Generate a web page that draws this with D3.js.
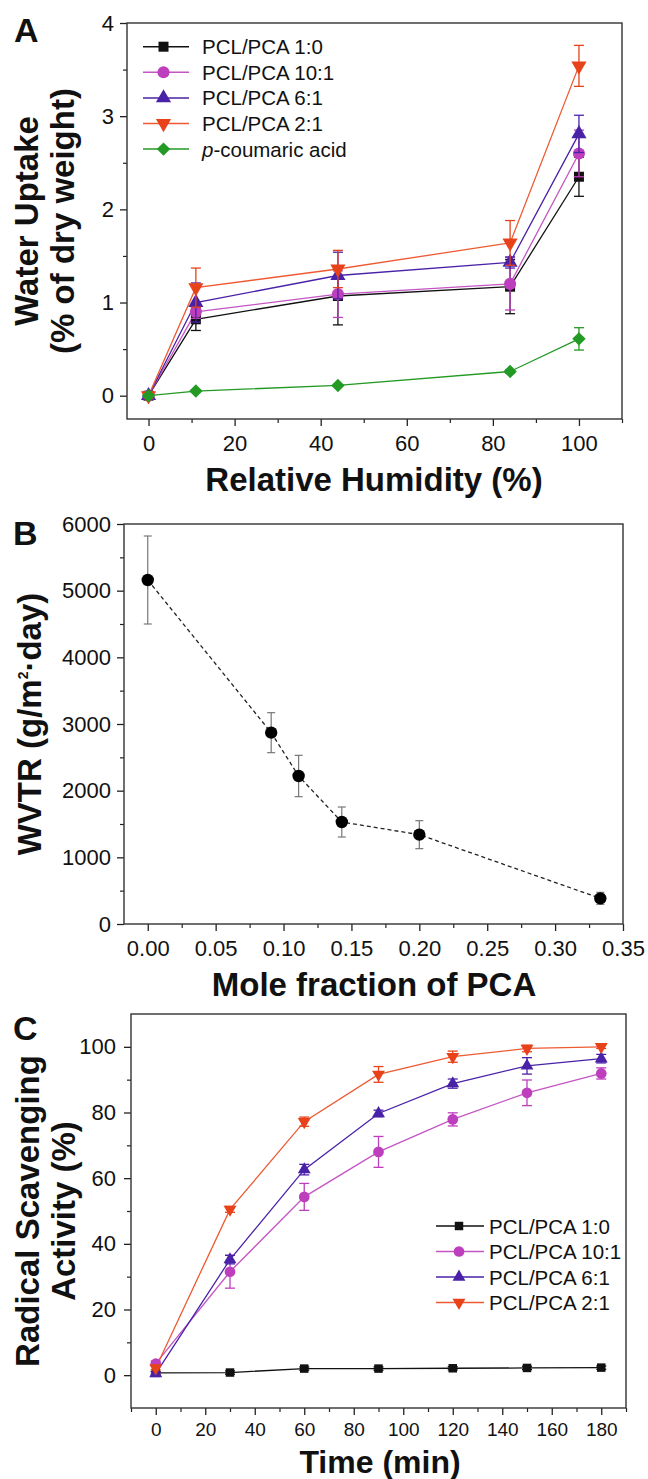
<!DOCTYPE html>
<html><head><meta charset="utf-8">
<script src="https://cdn.jsdelivr.net/npm/d3@7"></script>
<style>
body{margin:0;background:#fff}
text{font-family:"Liberation Sans",Arial,Helvetica,sans-serif;fill:#111}
</style>
</head><body>
<svg id="chart" width="648" height="1479" xmlns="http://www.w3.org/2000/svg"></svg>
<script>
// ---------------- DATA ----------------
// Panel A: water uptake vs relative humidity
const humidity = [0, 11, 44, 84, 100];
const namesA = ["PCL/PCA 1:0", "PCL/PCA 10:1", "PCL/PCA 6:1", "PCL/PCA 2:1", "p-coumaric acid"];
const uptake_1_0   = [0, 0.82, 1.07, 1.17, 2.35];
const uptake_10_1  = [0, 0.90, 1.09, 1.20, 2.60];
const uptake_6_1   = [0, 1.00, 1.29, 1.43, 2.81];
const uptake_2_1   = [0, 1.16, 1.36, 1.64, 3.54];
const uptake_pca   = [0, 0.05, 0.11, 0.26, 0.61];
const uptakeErr_1_0  = [0.03, 0.12, 0.31, 0.29, 0.21];
const uptakeErr_10_1 = [0.03, 0.07, 0.25, 0.28, 0.25];
const uptakeErr_6_1  = [0.03, 0.21, 0.25, 0.06, 0.20];
const uptakeErr_2_1  = [0.03, 0.21, 0.20, 0.24, 0.22];
const uptakeErr_pca  = [0.01, 0.01, 0.01, 0.02, 0.12];
const ticksA_x = [0, 20, 40, 60, 80, 100];
const ticksA_y = [0, 1, 2, 3, 4];

// Panel B: WVTR vs mole fraction of PCA
const moleFraction = [0, 0.0909, 0.1111, 0.1429, 0.2, 0.3333];
const wvtr    = [5160, 2870, 2220, 1530, 1340, 385];
const wvtrErr = [660, 300, 310, 225, 210, 90];
const ticksB_x = [0, 0.05, 0.10, 0.15, 0.20, 0.25, 0.30, 0.35];
const ticksB_y = [0, 1000, 2000, 3000, 4000, 5000, 6000];

// Panel C: radical scavenging activity vs time
const timeMin = [0, 30, 60, 90, 120, 150, 180];
const namesC = ["PCL/PCA 1:0", "PCL/PCA 10:1", "PCL/PCA 6:1", "PCL/PCA 2:1"];
const rsa_1_0  = [0.7, 0.8, 2.0, 2.0, 2.1, 2.2, 2.3];
const rsa_10_1 = [3.5, 31.5, 54.3, 68.0, 77.9, 86.0, 91.9];
const rsa_6_1  = [0.5, 35.2, 62.6, 79.7, 88.8, 94.2, 96.4];
const rsa_2_1  = [2.2, 50.5, 77.2, 91.6, 97.0, 99.5, 100.0];
const rsaErr_1_0  = [0.4, 0.5, 0.5, 0.5, 0.5, 0.5, 0.5];
const rsaErr_10_1 = [0.8, 5.0, 4.1, 4.7, 2.0, 3.9, 1.7];
const rsaErr_6_1  = [0.5, 1.3, 1.6, 1.0, 1.4, 2.5, 1.3];
const rsaErr_2_1  = [0.6, 0.9, 1.4, 2.4, 1.7, 1.0, 0.5];
const ticksC_x = [0, 20, 40, 60, 80, 100, 120, 140, 160, 180];
const ticksC_y = [0, 20, 40, 60, 80, 100];

// ---------------- STYLE ----------------
const colBlack = "#111111", colMag = "#bd3fbd", colBlue = "#4a22a8", colRed = "#e8421a", colGreen = "#239a23";
const lineMag = "#c455c4", lineRed = "#ee5a32";

const svg = d3.select("#chart");

function symbolPath(kind, size) {
  if (kind === "square" || kind === "diamond") return d3.symbol(d3.symbolSquare, size)();
  if (kind === "up" || kind === "down") return d3.symbol(d3.symbolTriangle, size)();
  return d3.symbol(d3.symbolCircle, size)();
}
function symbolRot(kind) { return kind === "down" ? 180 : (kind === "diamond" ? 45 : 0); }
function drawMarker(g, x, y, kind, size, color) {
  g.append("path").attr("d", symbolPath(kind, size))
    .attr("transform", `translate(${x},${y}) rotate(${symbolRot(kind)})`)
    .attr("fill", color).attr("stroke", "none");
}

function frameAndAxes(opt) {
  const g = svg.append("g");
  const x = d3.scaleLinear().domain(opt.xDomain).range([opt.left, opt.right]);
  const y = d3.scaleLinear().domain(opt.yDomain).range([opt.bottom, opt.top]);
  g.append("g").attr("transform", `translate(0,${opt.bottom})`)
    .call(d3.axisBottom(x).tickValues(opt.xMinor).tickSize(4).tickFormat(""))
    .call(s => s.select(".domain").remove())
    .call(s => s.selectAll("line").attr("stroke", "#222").attr("stroke-width", 1.2));
  g.append("g").attr("transform", `translate(${opt.left},0)`)
    .call(d3.axisLeft(y).tickValues(opt.yMinor).tickSize(4).tickFormat(""))
    .call(s => s.select(".domain").remove())
    .call(s => s.selectAll("line").attr("stroke", "#222").attr("stroke-width", 1.2));
  const ax = g.append("g").attr("transform", `translate(0,${opt.bottom})`)
    .call(d3.axisBottom(x).tickValues(opt.xTicks).tickSize(7).tickPadding(opt.xPad).tickFormat(opt.xFmt));
  ax.select(".domain").remove();
  ax.selectAll("line").attr("stroke", "#222").attr("stroke-width", 1.3);
  ax.selectAll("text").style("font-size", opt.xFont + "px").style("font-family", '"Liberation Sans",Arial,sans-serif').attr("fill", "#111");
  const ay = g.append("g").attr("transform", `translate(${opt.left},0)`)
    .call(d3.axisLeft(y).tickValues(opt.yTicks).tickSize(7).tickPadding(opt.yPad).tickFormat(opt.yFmt));
  ay.select(".domain").remove();
  ay.selectAll("line").attr("stroke", "#222").attr("stroke-width", 1.3);
  ay.selectAll("text").style("font-size", opt.yFont + "px").style("font-family", '"Liberation Sans",Arial,sans-serif').attr("fill", "#111");
  g.append("rect").attr("x", opt.left).attr("y", opt.top)
    .attr("width", opt.right - opt.left).attr("height", opt.bottom - opt.top)
    .attr("fill", "none").attr("stroke", "#333").attr("stroke-width", 1.4);
  return { x, y, g };
}

function errorBars(g, xs, ys, es, x, y, color, cap, width) {
  xs.forEach((xv, i) => {
    const px = x(xv), y1 = y(ys[i] - es[i]), y2 = y(ys[i] + es[i]);
    g.append("line").attr("x1", px).attr("x2", px).attr("y1", y1).attr("y2", y2)
      .attr("stroke", color).attr("stroke-width", width);
    [y1, y2].forEach(py => g.append("line").attr("x1", px - cap / 2).attr("x2", px + cap / 2)
      .attr("y1", py).attr("y2", py).attr("stroke", color).attr("stroke-width", width));
  });
}

function panelLetter(txt, x, y) {
  svg.append("text").attr("x", x).attr("y", y).text(txt)
    .style("font-weight", "bold").style("font-size", "34px");
}
function yTitle(lines, x0, dx, cy) {
  lines.forEach((t, i) => {
    svg.append("text").attr("transform", `translate(${x0 + i * dx},${cy}) rotate(-90)`)
      .attr("text-anchor", "middle").style("font-weight", "bold").style("font-size", "33px")
      .text(t);
  });
}
function xTitle(t, cx, y, fs) {
  svg.append("text").attr("x", cx).attr("y", y).attr("text-anchor", "middle")
    .style("font-weight", "bold").style("font-size", (fs || 33) + "px").text(t);
}

// ---------------- PANEL A ----------------
{
  const A = frameAndAxes({
    left: 127, right: 622, top: 23, bottom: 419,
    xDomain: [-5, 110], yDomain: [-0.25, 4],
    xTicks: ticksA_x, yTicks: ticksA_y,
    xMinor: [10, 30, 50, 70, 90, 110], yMinor: [0.5, 1.5, 2.5, 3.5],
    xFmt: d3.format("d"), yFmt: d3.format("d"),
    xFont: 22, yFont: 22, xPad: 9, yPad: 6
  });
  const seriesA = [
    { v: uptake_1_0, e: uptakeErr_1_0, c: colBlack, lc: colBlack, k: "square", s: 100 },
    { v: uptake_10_1, e: uptakeErr_10_1, c: colMag, lc: lineMag, k: "circle", s: 115 },
    { v: uptake_6_1, e: uptakeErr_6_1, c: colBlue, lc: colBlue, k: "up", s: 100 },
    { v: uptake_2_1, e: uptakeErr_2_1, c: colRed, lc: lineRed, k: "down", s: 100 },
    { v: uptake_pca, e: uptakeErr_pca, c: colGreen, lc: colGreen, k: "diamond", s: 90 }
  ];
  const line = d3.line().x((d, i) => A.x(humidity[i])).y(d => A.y(d));
  seriesA.forEach(s => {
    A.g.append("path").datum(s.v).attr("d", line).attr("fill", "none")
      .attr("stroke", s.lc).attr("stroke-width", 1.3);
  });
  seriesA.forEach(s => {
    errorBars(A.g, humidity, s.v, s.e, A.x, A.y, s.c, 10, 1.3);
    humidity.forEach((h, i) => drawMarker(A.g, A.x(h), A.y(s.v[i]), s.k, s.s, s.c));
  });
  const legY0 = 46.7, legDy = 25.6;
  seriesA.forEach((s, i) => {
    const yy = legY0 + i * legDy;
    A.g.append("line").attr("x1", 143).attr("x2", 189).attr("y1", yy).attr("y2", yy)
      .attr("stroke", s.lc).attr("stroke-width", 1.5);
    drawMarker(A.g, 163.5, yy, s.k, s.s, s.c);
    const t = A.g.append("text").attr("x", 202).attr("y", yy + 7.5).style("font-size", "20.5px");
    if (i === 4) {
      t.append("tspan").style("font-style", "italic").text("p");
      t.append("tspan").text("-coumaric acid");
    } else t.text(namesA[i]);
  });
  panelLetter("A", 14, 42);
  yTitle(["Water Uptake", "(% of dry weight)"], 38, 36, 221);
  xTitle("Relative Humidity (%)", 374, 491);
}

// ---------------- PANEL B ----------------
{
  const B = frameAndAxes({
    left: 124, right: 623, top: 524, bottom: 924,
    xDomain: [-0.0175, 0.35], yDomain: [0, 6000],
    xTicks: ticksB_x, yTicks: ticksB_y,
    xMinor: [0.025, 0.075, 0.125, 0.175, 0.225, 0.275, 0.325], yMinor: [500, 1500, 2500, 3500, 4500, 5500],
    xFmt: d3.format(".2f"), yFmt: d3.format("d"),
    xFont: 22, yFont: 22, xPad: 9, yPad: 6
  });
  const line = d3.line().x((d, i) => B.x(moleFraction[i])).y(d => B.y(d));
  B.g.append("path").datum(wvtr).attr("d", line).attr("fill", "none")
    .attr("stroke", "#222").attr("stroke-width", 1.3).attr("stroke-dasharray", "4,3");
  errorBars(B.g, moleFraction, wvtr, wvtrErr, B.x, B.y, "#777", 8, 1.2);
  moleFraction.forEach((m, i) => B.g.append("circle").attr("cx", B.x(m)).attr("cy", B.y(wvtr[i]))
    .attr("r", 6.2).attr("fill", "#000"));
  panelLetter("B", 13, 545);
  const t = svg.append("text").attr("transform", "translate(41,724) rotate(-90)")
    .attr("text-anchor", "middle").style("font-weight", "bold").style("font-size", "33px");
  t.append("tspan").text("WVTR (g/m");
  t.append("tspan").attr("dy", -13).style("font-size", "14px").text("2");
  t.append("tspan").attr("dy", 13).text("·day)");
  xTitle("Mole fraction of PCA", 374, 996);
}

// ---------------- PANEL C ----------------
{
  const C = frameAndAxes({
    left: 131, right: 626, top: 1014, bottom: 1408,
    xDomain: [-10, 190], yDomain: [-10, 110],
    xTicks: ticksC_x, yTicks: ticksC_y,
    xMinor: [-10, 10, 30, 50, 70, 90, 110, 130, 150, 170, 190], yMinor: [10, 30, 50, 70, 90],
    xFmt: d3.format("d"), yFmt: d3.format("d"),
    xFont: 19, yFont: 22, xPad: 8, yPad: 8
  });
  const seriesC = [
    { v: rsa_1_0, e: rsaErr_1_0, c: colBlack, lc: colBlack, k: "square", s: 72 },
    { v: rsa_10_1, e: rsaErr_10_1, c: colMag, lc: lineMag, k: "circle", s: 90 },
    { v: rsa_6_1, e: rsaErr_6_1, c: colBlue, lc: colBlue, k: "up", s: 72 },
    { v: rsa_2_1, e: rsaErr_2_1, c: colRed, lc: lineRed, k: "down", s: 72 }
  ];
  const line = d3.line().x((d, i) => C.x(timeMin[i])).y(d => C.y(d));
  seriesC.forEach(s => {
    C.g.append("path").datum(s.v).attr("d", line).attr("fill", "none")
      .attr("stroke", s.lc).attr("stroke-width", 1.3);
  });
  seriesC.forEach(s => {
    errorBars(C.g, timeMin, s.v, s.e, C.x, C.y, s.c, 10, 1.3);
    timeMin.forEach((tm, i) => drawMarker(C.g, C.x(tm), C.y(s.v[i]), s.k, s.s, s.c));
  });
  const legY0 = 1226, legDy = 25.5;
  seriesC.forEach((s, i) => {
    const yy = legY0 + i * legDy;
    C.g.append("line").attr("x1", 436).attr("x2", 484).attr("y1", yy).attr("y2", yy)
      .attr("stroke", s.lc).attr("stroke-width", 1.5);
    drawMarker(C.g, 459, yy, s.k, s.s, s.c);
    C.g.append("text").attr("x", 489).attr("y", yy + 7.5).style("font-size", "20.5px").text(namesC[i]);
  });
  panelLetter("C", 13, 1040);
  yTitle(["Radical Scavenging", "Activity (%)"], 39, 36, 1211);
  xTitle("Time (min)", 380, 1473, 32);
}
</script>
</body></html>
